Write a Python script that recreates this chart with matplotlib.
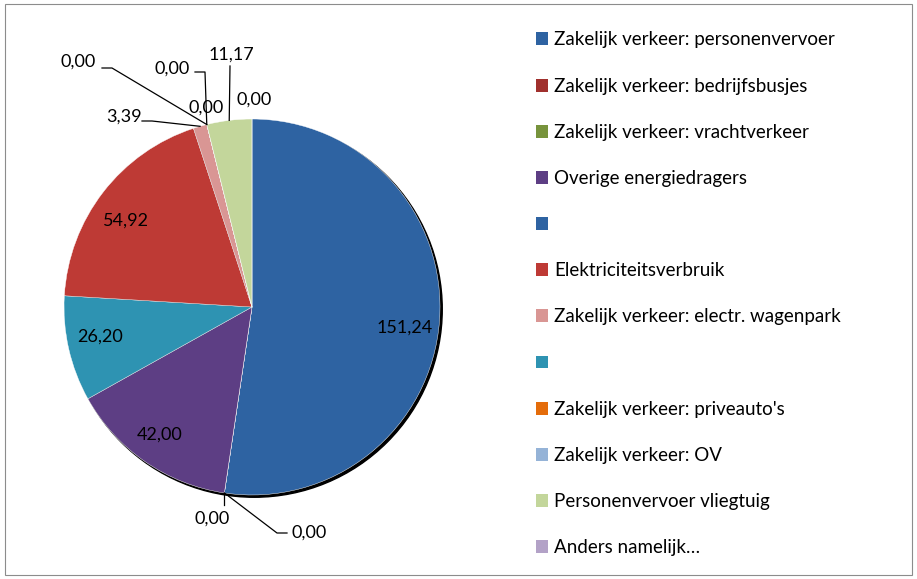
import matplotlib
matplotlib.use("Agg")
import matplotlib.pyplot as plt
from matplotlib.patches import Patch, Rectangle, Circle
import numpy as np

plt.rcParams['font.family'] = ['Lato', 'DejaVu Sans']

# data (pie order, clockwise from 12 o'clock)
categories = [
    "Zakelijk verkeer: personenvervoer",
    "Zakelijk verkeer: bedrijfsbusjes",
    "Zakelijk verkeer: vrachtverkeer",
    "Overige energiedragers",
    "",
    "Elektriciteitsverbruik",
    "Zakelijk verkeer: electr. wagenpark",
    "",
    "Zakelijk verkeer: priveauto's",
    "Zakelijk verkeer: OV",
    "Personenvervoer vliegtuig",
    "Anders namelijk…",
]
values = [151.24, 0.00, 0.00, 42.00, 26.20, 54.92, 3.39, 0.00, 0.00, 0.00, 11.17, 0.00]

slice_colors = ['#2E63A2', '#A0302D', '#77933C', '#5D3E84', '#2E93B2', '#BE3A35',
                '#D99694', '#2E93B2', '#E46C0A', '#95B3D7', '#C3D69B', '#B3A2C7']
legend_colors = ['#2E63A2', '#A0302D', '#77933C', '#5D3E84', '#2E63A2', '#BE3A35',
                 '#D99694', '#2E93B2', '#E46C0A', '#95B3D7', '#C3D69B', '#B3A2C7']

W, H = 917, 579
fig = plt.figure(figsize=(W / 100, H / 100), dpi=100)

# outer frame
fig.patches.append(Rectangle((5 / W, 4 / H), 907 / W, 571 / H, transform=fig.transFigure,
                             fill=False, edgecolor='#8C8C8C', linewidth=0.8))

# pie axes: center (252, 307) px, radius 188 px
cx, cy, r = 252, 307, 188
half = 260
ax = fig.add_axes([(cx - half) / W, (H - cy - half) / H, 2 * half / W, 2 * half / H])

ax.add_patch(Circle((0.012, -0.012), 1.0, color='black', zorder=0))
wedges, _ = ax.pie(values, colors=slice_colors, startangle=90, counterclock=False,
                   radius=1.0, wedgeprops=dict(linewidth=0.3, edgecolor='white'))
for w in wedges:
    w.set_zorder(1)

lim = half / r
ax.set_xlim(-lim, lim)
ax.set_ylim(-lim, lim)
ax.set_aspect('equal')
ax.axis('off')


def fmt(v):
    return f"{v:.2f}".replace('.', ',')


def to_data(px, py):
    return ((px - cx) / r, (cy - py) / r)


def mid_point(i, rad=1.0):
    w = wedges[i]
    a = np.deg2rad((w.theta1 + w.theta2) / 2)
    return rad * np.cos(a), rad * np.sin(a)


fs = 13
# inside labels
inside = {0: (405, 328), 3: (160, 435), 4: (100, 337), 5: (126, 221)}
for i, (px, py) in inside.items():
    ax.text(*to_data(px, py), fmt(values[i]), ha='center', va='center', fontsize=fs)

# outside labels with leader lines: index -> (text px, elbow px or None)
outside = {
    1: ((212, 519), (224, 505)),
    2: ((309, 533), (287, 533)),
    6: ((124, 117), (152, 121)),
    7: ((78, 62), (112, 68)),
    8: ((172, 69), (205, 72)),
    9: ((206, 108), None),
    10: ((231, 55), (230, 66)),
    11: ((254, 100), None),
}
for i, ((px, py), elbow) in outside.items():
    ax.text(*to_data(px, py), fmt(values[i]), ha='center', va='center', fontsize=fs, zorder=5)
    if elbow is None:
        continue
    mx, my = mid_point(i)
    ex, ey = to_data(*elbow)
    if i == 1:
        pts = [(mx, my), (mx, ey)]
    elif i == 10:
        pts = [(ex, ey), (mx, my)]
    elif i == 2:
        pts = [(mx, my), to_data(277, 533), (ex, ey)]
    else:
        pts = [to_data(elbow[0] - 10, elbow[1]), (ex, ey), (mx, my)]
    xs, ys = zip(*pts)
    ax.plot(xs, ys, color='black', linewidth=0.9, clip_on=False, zorder=4)

handles = [Patch(facecolor=c, edgecolor='none') for c in legend_colors]
fig.legend(handles, categories, loc='upper left', bbox_to_anchor=(528 / W, 1 - 24 / H),
           frameon=False, fontsize=13.5, handlelength=0.68, handleheight=0.68,
           handletextpad=0.3, labelspacing=1.555, borderaxespad=0)

fig.savefig('out.png', dpi=100)
